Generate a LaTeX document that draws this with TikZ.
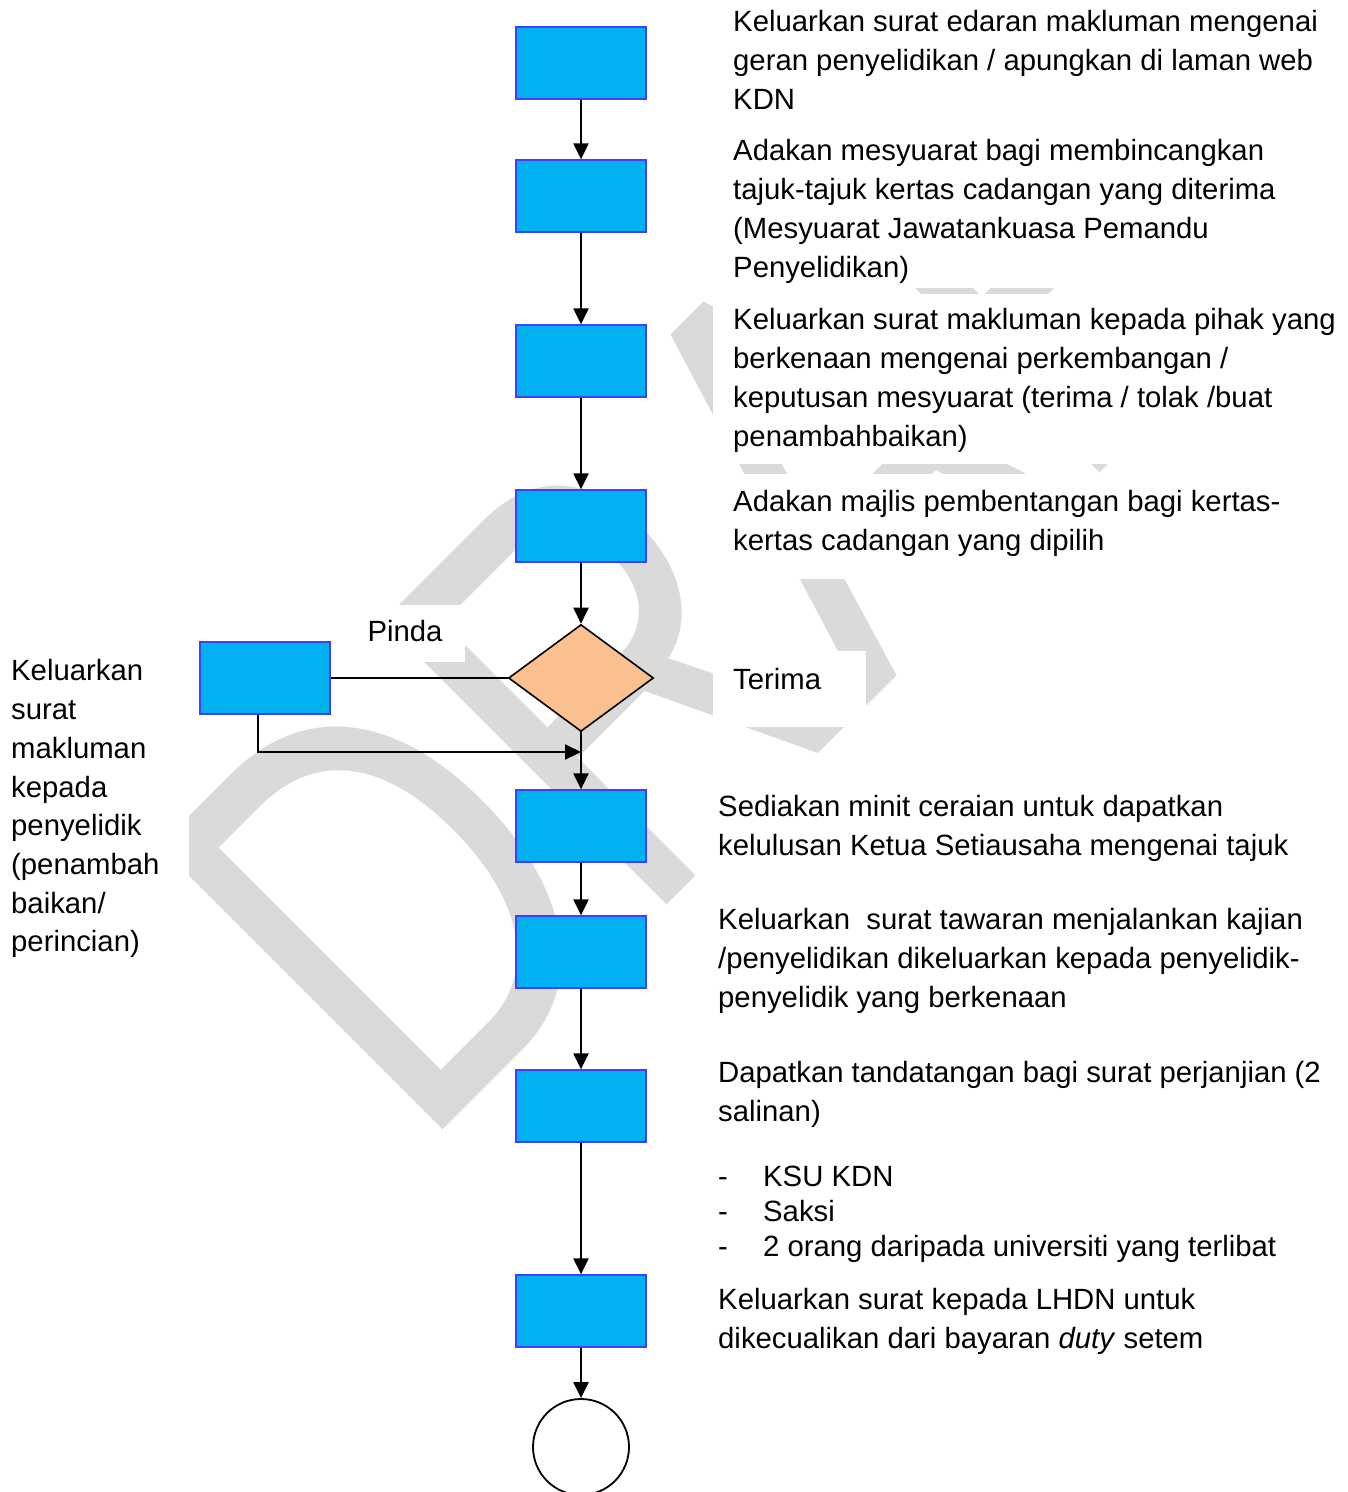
\documentclass[tikz,border=0pt]{standalone}
\usepackage{fontspec}
\usepackage{graphicx}
\setmainfont{Liberation Sans}
\usetikzlibrary{arrows.meta,shapes.geometric}

\definecolor{boxblue}{HTML}{00B0F0}
\definecolor{boxedge}{HTML}{3F3FFF}
\definecolor{decpeach}{HTML}{FAC090}
\definecolor{wmgray}{HTML}{DADADA}

\tikzset{
  stepbox/.style={rectangle, fill=boxblue, draw=boxedge, line width=1.3pt,
    minimum width=130pt, minimum height=72pt, inner sep=0pt},
  decide/.style={diamond, fill=decpeach, draw=black, line width=1.6pt,
    minimum width=145pt, minimum height=107pt, inner sep=0pt},
  endcircle/.style={circle, draw=black, fill=white, line width=1.8pt,
    minimum size=96pt, inner sep=0pt},
  note/.style={anchor=north west, align=left, inner sep=0pt,
    font=\fontsize{29.3}{38.7}\selectfont},
  flow/.style={-{Triangle[length=16pt,width=15pt]}, line width=2.2pt},
  link/.style={line width=1.8pt}
}

\begin{document}
\begin{tikzpicture}[x=1pt, y=-1pt]
  \useasboundingbox (0,0) rectangle (1348,1492);

  % watermark and the white text frames over it
  \node[inner sep=0pt, text=wmgray, font=\fontsize{583}{583}\selectfont]
    (wm) at (699,590) {\rotatebox{45}{\scalebox{0.755}[1]{DRAF}}};
  \foreach \xa/\ya/\xb/\yb in {713/0/1348/126, 713/126/1348/288, 713/294/1348/464,
      713/474/1348/579, 713/651/866/727, 347/605/465/662, 0/645/189/965,
      708/782/1348/880, 698/896/1348/1022, 698/1050/1348/1140,
      698/1150/1348/1265, 698/1275/1348/1362}
    \fill[white] (\xa,\ya) rectangle (\xb,\yb);

  % texts
  \node[note] (t1) at (733,10.5) {Keluarkan surat edaran makluman mengenai\\
    geran penyelidikan / apungkan di laman web\\ KDN};
  \node[note] (t2) at (733,139.5) {Adakan mesyuarat bagi membincangkan\\
    tajuk-tajuk kertas cadangan yang diterima\\
    (Mesyuarat Jawatankuasa Pemandu\\ Penyelidikan)};
  \node[note] (t3) at (733,308.5) {Keluarkan surat makluman kepada pihak yang\\
    berkenaan mengenai perkembangan /\\
    keputusan mesyuarat (terima / tolak /buat\\ penambahbaikan)};
  \node[note] (t4) at (733,490.5) {Adakan majlis pembentangan bagi kertas-\\
    kertas cadangan yang dipilih};
  \node[note, anchor=center] (tpinda) at (405,631) {Pinda};
  \node[note] (tterima) at (733,668.5) {Terima};
  \node[note] (tleft) at (11,659.5) {Keluarkan\\ surat\\ makluman\\ kepada\\
    penyelidik\\ (penambah\\ baikan/\\ perincian)};
  \node[note] (t5) at (718,795.5) {Sediakan minit ceraian untuk dapatkan\\
    kelulusan Ketua Setiausaha mengenai tajuk};
  \node[note] (t6) at (718,908.5) {Keluarkan\ \ surat tawaran menjalankan kajian\\
    /penyelidikan dikeluarkan kepada penyelidik-\\ penyelidik yang berkenaan};
  \node[note] (t7) at (718,1061.5) {Dapatkan tandatangan bagi surat perjanjian (2\\
    salinan)};
  \node[note, font=\fontsize{29.3}{35}\selectfont] (tlist) at (718,1165.5)
    {\makebox[45pt][l]{-}KSU KDN\\ \makebox[45pt][l]{-}Saksi\\
     \makebox[45pt][l]{-}2 orang daripada universiti yang terlibat};
  \node[note] (t8) at (718,1288.5) {Keluarkan surat kepada LHDN untuk\\
    dikecualikan dari bayaran \textit{duty} setem};

  % flow chart
  \node[stepbox] (s1) at (581,63) {};
  \node[stepbox] (s2) at (581,196) {};
  \node[stepbox] (s3) at (581,361) {};
  \node[stepbox] (s4) at (581,526) {};
  \node[decide] (dec) at (581,678) {};
  \node[stepbox] (spinda) at (265,678) {};
  \node[stepbox] (s5) at (581,826) {};
  \node[stepbox] (s6) at (581,952) {};
  \node[stepbox] (s7) at (581,1106) {};
  \node[stepbox] (s8) at (581,1311) {};
  \node[endcircle] (fin) at (581,1447) {};
  \coordinate (merge) at (581,752);

  \foreach \a/\b in {s1/s2, s2/s3, s3/s4, s4/dec, dec/s5, s5/s6, s6/s7, s7/s8, s8/fin}
    \draw[flow] (\a) -- (\b);
  \draw[link] (spinda) -- (dec);
  \draw[flow] ([xshift=-7pt]spinda.south) |- (merge);
\end{tikzpicture}
\end{document}
